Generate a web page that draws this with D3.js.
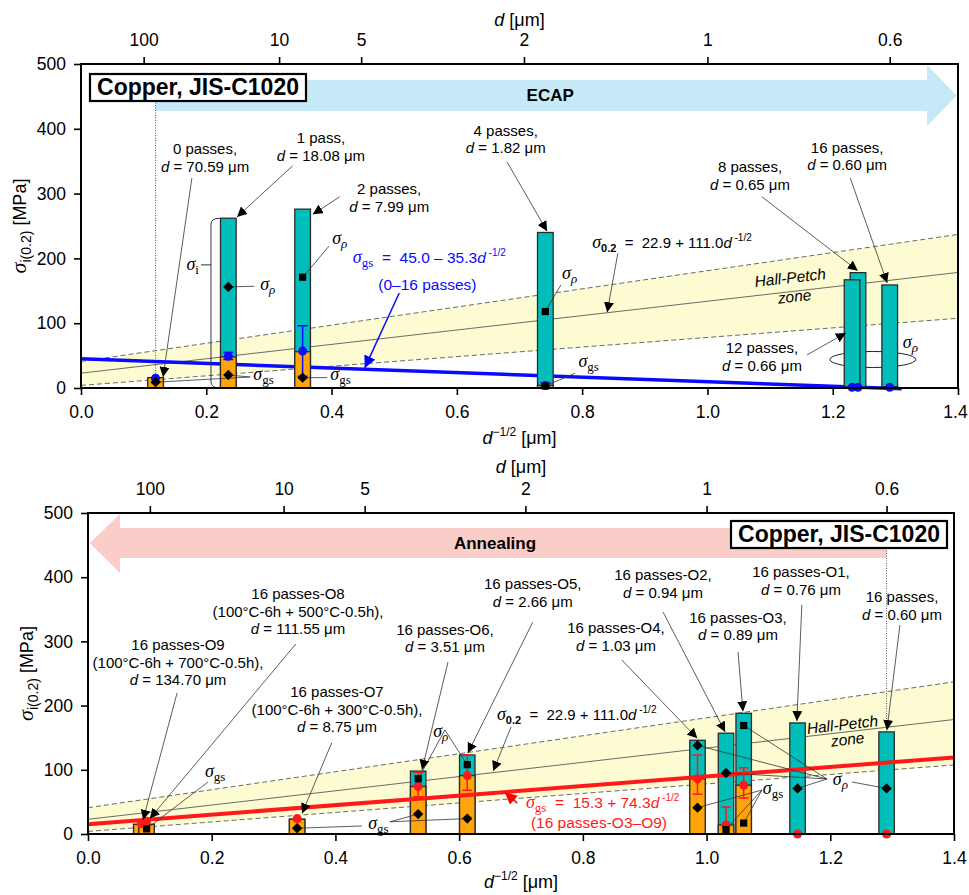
<!DOCTYPE html>
<html lang="en">
<head>
<meta charset="utf-8">
<title>copper JIS-C1020</title>
<script src="https://cdn.jsdelivr.net/npm/d3@7"></script>
<style>
body { margin: 0; background: #fff; }
svg text { font-family: "Liberation Sans", Arial, Helvetica, sans-serif; white-space: pre; }
</style>
</head>
<body>
<script>
// ---- data ----
var xTicks = [0, 0.2, 0.4, 0.6, 0.8, 1.0, 1.2, 1.4];
var yTicks = [0, 100, 200, 300, 400, 500];
var dTicks = [100, 10, 5, 2, 1, 0.6];

// straight lines: [intercept, slope] in MPa vs d^-1/2
var hpFit = [22.9, 111.0];
var hpUpper = [41, 140];
var hpLower = [4, 74];
var ecapFit = [45.0, -35.3];
var annealFit = [15.3, 74.3];

// ECAP series (top)
var ecapName  = ["0 passes", "1 pass", "2 passes", "4 passes", "8 passes", "12 passes", "16 passes"];
var ecapD     = [70.59, 18.08, 7.99, 1.82, 0.65, 0.66, 0.60];
var ecapTotal = [16, 262, 276, 240, 178, 167, 159];
var ecapGs    = [16, 48, 56, 4, 2, 2, 2];
var ecapGsPt  = [15, 49, 57, 4, 1, 1, 1];
var ecapErrLo = [null, 44, 18, 1, null, null, null];
var ecapErrHi = [null, 55, 96, 8, null, null, null];
var ecapRho   = [null, 156, 171, 118, null, null, null];
var ecapRhoShape = [null, "D", "S", "S", null, null, null];
var ecapGsMk  = [9, 20, 16, 3, null, null, null];
var ecapGsShape = ["D", "D", "D", "S", null, null, null];

// annealing series (bottom)
var annName  = ["16 passes-O9", "16 passes-O8", "16 passes-O7", "16 passes-O6", "16 passes-O5",
                "16 passes-O4", "16 passes-O2", "16 passes-O3", "16 passes-O1", "16 passes"];
var annHeat  = ["100°C-6h + 700°C-0.5h", "100°C-6h + 500°C-0.5h", "100°C-6h + 300°C-0.5h",
                null, null, null, null, null, null, null];
var annD     = [134.70, 111.55, 8.75, 3.51, 2.66, 1.03, 0.94, 0.89, 0.76, 0.60];
var annTotal = [15, 15, 23, 98, 123, 146, 157, 188, 173, 159];
var annGs    = [15, 15, 23, 74, 91, 86, 14, 76, 0, 0];
var annGsPt  = [16, 20, 24, 74, 91, 86, 14, 76, 0, 0];
var annErrLo = [null, null, null, 58, 68, 62, 0, 56, null, null];
var annErrHi = [null, null, null, 96, 123, 123, 42, 103, null, null];
var annRho   = [null, null, null, 86, 108, 138, 95, 169, 71, 71];
var annRhoShape = [null, null, null, "S", "S", "D", "D", "S", "D", "D"];
var annGsMk  = [null, 8, 9, 31, 24, 41, 7, 17, null, null];
var annGsShape = [null, "S", "D", "D", "D", "D", "S", "S", null, null];

// ---- styles ----
var SANS = "'Liberation Sans', Arial, Helvetica, sans-serif";
var SERIF = "'Liberation Serif', 'Times New Roman', serif";
var CYAN = "#00bfbb", ORANGE = "#ffa40a", EDGE = "#2b2b2b";
var barW = 0.025;

var svg = d3.select("body").append("svg")
    .attr("width", 969).attr("height", 895)
    .style("background", "#fff");

var defs = svg.append("defs");
function arrowMarker(id, color, size) {
    defs.append("marker").attr("id", id)
        .attr("viewBox", "0 0 10 10").attr("refX", 10).attr("refY", 5)
        .attr("markerWidth", size).attr("markerHeight", size)
        .attr("markerUnits", "userSpaceOnUse").attr("orient", "auto")
        .append("path").attr("d", "M0,0L10,5L0,10z").attr("fill", color);
}
arrowMarker("ah-k", "#000", 10);
arrowMarker("ah-b", "#0000ff", 12);
arrowMarker("ah-r", "#ff0000", 12);

function lin(c, v) { return c[0] + c[1] * v; }

function panel(box) {
    var p = { box: box, g: svg.append("g") };
    p.x = d3.scaleLinear().domain([0, 1.4]).range([box.left, box.right]);
    p.y = d3.scaleLinear().domain([0, 500]).range([box.bottom, box.top]);
    return p;
}

// text built from pieces; shift = px below baseline
function rich(g, x, y, parts, anchor, color) {
    var t = g.append("text").attr("x", x).attr("y", y)
        .attr("text-anchor", anchor || "start").attr("fill", color || "#000");
    var shift = 0;
    parts.forEach(function(pt) {
        var s = pt.shift || 0;
        t.append("tspan").attr("dy", s - shift)
            .attr("font-family", pt.serif ? SERIF : SANS)
            .attr("font-style", pt.it ? "italic" : "normal")
            .attr("font-weight", pt.bold ? "bold" : "normal")
            .attr("font-size", pt.size || 15)
            .text(pt.t);
        shift = s;
    });
    return t;
}

function sigma(p, xv, yv, sub, opt) {
    opt = opt || {};
    return rich(p.g, p.x(xv), p.y(yv), [
        { t: "σ", serif: true, it: true, size: 18 },
        { t: sub, serif: !opt.sans, it: !!opt.subIt, size: opt.sans ? 11 : 13, shift: 4, bold: !!opt.sans }
    ], opt.anchor, opt.color);
}

function seg(p, a, marker, color, width) {
    var l = p.g.append("line")
        .attr("x1", p.x(a[0])).attr("y1", p.y(a[1]))
        .attr("x2", p.x(a[2])).attr("y2", p.y(a[3]))
        .attr("stroke", color || "#333").attr("stroke-width", width || 0.8);
    if (marker) l.attr("marker-end", "url(#" + marker + ")");
    return l;
}

function hallPetch(p) {
    var xs = [0, 1.4];
    p.g.append("path").datum(xs)
        .attr("d", d3.area().x(function(d) { return p.x(d); })
            .y0(function(d) { return p.y(lin(hpLower, d)); })
            .y1(function(d) { return p.y(lin(hpUpper, d)); }))
        .attr("fill", "#fdfbd1");
    [hpUpper, hpLower, hpFit].forEach(function(c, k) {
        p.g.append("path").datum(xs)
            .attr("d", d3.line().x(function(d) { return p.x(d); }).y(function(d) { return p.y(lin(c, d)); }))
            .attr("fill", "none").attr("stroke", "#6a6a6a").attr("stroke-width", 1)
            .attr("stroke-dasharray", k < 2 ? "5,3" : null);
    });
}

function fitLine(p, c, x0, x1, color, w) {
    p.g.append("path").datum([x0, x1])
        .attr("d", d3.line().x(function(d) { return p.x(d); }).y(function(d) { return p.y(lin(c, d)); }))
        .attr("fill", "none").attr("stroke", color).attr("stroke-width", w);
}

function bars(p, rows) {
    var bw = p.x(barW) - p.x(0);
    var g = p.g.selectAll(null).data(rows).join("g");
    g.append("rect")
        .attr("x", function(r) { return p.x(r.x) - bw / 2; })
        .attr("y", function(r) { return p.y(r.total); })
        .attr("width", bw)
        .attr("height", function(r) { return p.y(0) - p.y(r.total); })
        .attr("fill", CYAN).attr("stroke", EDGE).attr("stroke-width", 1.3);
    g.filter(function(r) { return r.gs > 0; }).append("rect")
        .attr("x", function(r) { return p.x(r.x) - bw / 2; })
        .attr("y", function(r) { return p.y(r.gs); })
        .attr("width", bw)
        .attr("height", function(r) { return p.y(0) - p.y(r.gs); })
        .attr("fill", ORANGE).attr("stroke", EDGE).attr("stroke-width", 1.3);
}

function gsPoints(p, rows, color) {
    rows.forEach(function(r) {
        var cx = p.x(r.x);
        if (r.lo != null) {
            p.g.append("line").attr("x1", cx).attr("x2", cx)
                .attr("y1", p.y(r.lo)).attr("y2", p.y(r.hi))
                .attr("stroke", color).attr("stroke-width", 1.5);
            [r.lo, r.hi].forEach(function(v) {
                p.g.append("line").attr("x1", cx - 5).attr("x2", cx + 5)
                    .attr("y1", p.y(v)).attr("y2", p.y(v))
                    .attr("stroke", color).attr("stroke-width", 1.5);
            });
        }
        p.g.append("circle").attr("cx", cx).attr("cy", p.y(r.pt)).attr("r", 4.5).attr("fill", color);
    });
}

function marks(p, rows) {
    rows.forEach(function(r) {
        [[r.rho, r.rhoShape], [r.gsMk, r.gsShape]].forEach(function(m) {
            if (m[0] == null) return;
            var sym = d3.symbol().type(d3.symbolSquare).size(m[1] === "D" ? 54 : 52);
            p.g.append("path").attr("d", sym())
                .attr("transform", "translate(" + p.x(r.x) + "," + p.y(m[0]) + ")" + (m[1] === "D" ? " rotate(45)" : ""))
                .attr("fill", "#000");
        });
    });
}

function notes(p, rows, layout) {
    layout.forEach(function(n, i) {
        var r = rows[i];
        var lines = r.heat ? [r.name, "(" + r.heat + "),"] : [r.name + ","];
        var t = p.g.append("text").attr("text-anchor", "middle").attr("font-size", 15)
            .attr("y", p.y(n.ty));
        lines.forEach(function(s, k) {
            t.append("tspan").attr("x", p.x(n.tx)).attr("dy", k ? 17.5 : 0).text(s);
        });
        t.append("tspan").attr("x", p.x(n.tx)).attr("dy", 17.5).attr("font-style", "italic").text("d");
        t.append("tspan").text(" = " + r.d.toFixed(2) + " μm");
        seg(p, n.a, "ah-k", "#333", 0.8);
    });
}

function axes(p, xlabelY, toplabelY) {
    var b = p.box;
    var gx = p.g.append("g").attr("transform", "translate(0," + b.bottom + ")")
        .call(d3.axisBottom(p.x).tickValues(xTicks).tickSize(7).tickPadding(11).tickFormat(d3.format(".1f")));
    var gt = p.g.append("g").attr("transform", "translate(0," + b.top + ")")
        .call(d3.axisTop(p.x).tickValues(dTicks.map(function(d) { return 1 / Math.sqrt(d); }))
            .tickSize(7).tickPadding(11).tickFormat(function(v, i) { return dTicks[i]; }));
    var gy = p.g.append("g").attr("transform", "translate(" + b.left + ",0)")
        .call(d3.axisLeft(p.y).tickValues(yTicks).tickSize(7).tickPadding(8));
    [gx, gt, gy].forEach(function(g) {
        g.attr("font-size", 17.5).attr("font-family", SANS);
        g.select(".domain").remove();
        g.selectAll(".tick line").attr("stroke-width", 1.6);
    });
    // keep the last bottom label inside the page
    gx.selectAll(".tick text").filter(function(v) { return v === 1.4; })
        .attr("x", Math.min(0, 955 - b.right));
    p.g.append("rect").attr("x", b.left).attr("y", b.top)
        .attr("width", b.right - b.left).attr("height", b.bottom - b.top)
        .attr("fill", "none").attr("stroke", "#000").attr("stroke-width", 2);

    var cx = (b.left + b.right) / 2;
    rich(p.g, cx, xlabelY, [
        { t: "d", it: true, size: 18 },
        { t: "−1/2", size: 12, shift: -8 },
        { t: " [μm]", size: 18 }
    ], "middle");
    rich(p.g, cx, toplabelY, [
        { t: "d", it: true, size: 18 },
        { t: " [μm]", size: 18 }
    ], "middle");
    rich(p.g, 0, 0, [
        { t: "σ", serif: true, it: true, size: 22 },
        { t: "i(0.2)", size: 14, shift: 5 },
        { t: " [MPa]", size: 18 }
    ], "middle").attr("transform", "translate(" + (b.left - 55) + "," + ((b.top + b.bottom) / 2) + ") rotate(-90)");
}

function labelBox(p, x, y) {
    var w = 216, h = 27;
    p.g.append("rect").attr("x", x).attr("y", y).attr("width", w).attr("height", h)
        .attr("fill", "#fff").attr("stroke", "#000").attr("stroke-width", 2.2);
    p.g.append("text").attr("x", x + w / 2).attr("y", y + 21).attr("text-anchor", "middle")
        .attr("font-size", 23).attr("font-weight", "bold").text("Copper, JIS-C1020");
}

function hpText(p, a, b) {
    var ang = Math.atan2(p.y(hpFit[1]) - p.y(0), p.x(1) - p.x(0)) * 180 / Math.PI;
    [["Hall-Petch", a], ["zone", b]].forEach(function(s) {
        var px = p.x(s[1][0]), py = p.y(s[1][1]);
        p.g.append("text").attr("x", px).attr("y", py).attr("text-anchor", "middle")
            .attr("font-size", 15.5).attr("font-style", "italic")
            .attr("transform", "rotate(" + ang + "," + px + "," + py + ")").text(s[0]);
    });
}

function rowsOf(dArr, total, gs, pt, lo, hi, rho, rhoShape, gsMk, gsShape, names, heat) {
    return dArr.map(function(d, i) {
        return { d: d, x: 1 / Math.sqrt(d), total: total[i], gs: gs[i], pt: pt[i], lo: lo[i], hi: hi[i],
                 rho: rho[i], rhoShape: rhoShape[i], gsMk: gsMk[i], gsShape: gsShape[i],
                 name: names[i], heat: heat ? heat[i] : null };
    });
}

// ================= top panel: ECAP =================
var P1 = panel({ left: 81, right: 958, top: 64, bottom: 388 });
var ecapRows = rowsOf(ecapD, ecapTotal, ecapGs, ecapGsPt, ecapErrLo, ecapErrHi, ecapRho, ecapRhoShape, ecapGsMk, ecapGsShape, ecapName);
var x0p = ecapRows[0].x;

hallPetch(P1);
P1.g.append("polygon").attr("fill", "#c5e9f6").attr("points", [
    [x0p, 427.5], [1.3506, 427.5], [1.3506, 404.3], [1.398, 451.4], [1.3506, 498.5], [1.3506, 475.3], [x0p, 475.3]
].map(function(q) { return P1.x(q[0]) + "," + P1.y(q[1]); }).join(" "));
P1.g.append("text").attr("x", P1.x(0.749)).attr("y", P1.y(451.4) + 6).attr("text-anchor", "middle")
    .attr("font-size", 17).attr("font-weight", "bold").text("ECAP");
P1.g.append("line").attr("x1", P1.x(x0p)).attr("x2", P1.x(x0p))
    .attr("y1", 100).attr("y2", P1.y(ecapTotal[0]))
    .attr("stroke", "#555").attr("stroke-width", 1).attr("stroke-dasharray", "1,1.5");
labelBox(P1, 90, 74);

// σρ loop round the last bars (behind them)
P1.g.append("ellipse").attr("cx", P1.x(1.264)).attr("cy", P1.y(44))
    .attr("rx", P1.x(1.264 + 0.0686) - P1.x(1.264)).attr("ry", 8)
    .attr("fill", "none").attr("stroke", "#222").attr("stroke-width", 1);

fitLine(P1, ecapFit, 0, 1.31, "#0a0aff", 3.5);
bars(P1, ecapRows);

// σi bracket on the 1-pass bar
(function() {
    var xb = P1.x(0.2075), yt = P1.y(262), yb = P1.y(0), ym = P1.y(190);
    P1.g.append("path").attr("d",
        "M" + (xb + 9) + "," + yt + "Q" + xb + "," + yt + " " + xb + "," + (yt + 6) +
        "L" + xb + "," + (yb - 6) + "Q" + xb + "," + yb + " " + (xb + 9) + "," + yb +
        "M" + (xb - 10) + "," + ym + "L" + xb + "," + ym)
        .attr("fill", "none").attr("stroke", "#333").attr("stroke-width", 1);
    rich(P1.g, xb - 12, ym + 5, [
        { t: "σ", serif: true, it: true, size: 18 },
        { t: "i", serif: true, size: 13, shift: 4 }
    ], "end");
})();

// σ label leader lines
[[0.277, 157, 0.235, 156], [0.396, 219, 0.354, 171], [0.270, 17, 0.235, 20], [0.270, 17, 0.119, 9],
 [0.393, 16, 0.354, 16], [0.766, 159, 0.741, 118], [0.789, 23, 0.741, 3]].forEach(function(a) { seg(P1, a); });

gsPoints(P1, ecapRows, "#0a0aff");
marks(P1, ecapRows);

sigma(P1, 0.286, 151, "ρ", { subIt: true });
sigma(P1, 0.401, 222, "ρ", { subIt: true });
sigma(P1, 0.275, 12, "gs");
sigma(P1, 0.398, 12, "gs");
sigma(P1, 0.768, 168, "ρ", { subIt: true });
sigma(P1, 0.794, 32, "gs");
sigma(P1, 1.312, 62, "ρ", { subIt: true });

notes(P1, ecapRows, [
    { tx: 0.198, ty: 361, a: [0.177, 324, 0.131, 17] },
    { tx: 0.383, ty: 378, a: [0.338, 343, 0.249, 264] },
    { tx: 0.492, ty: 299, a: [0.413, 295, 0.37, 268] },
    { tx: 0.678, ty: 389, a: [0.680, 349, 0.744, 242] },
    { tx: 1.068, ty: 333, a: [1.087, 295, 1.240, 181] },
    { tx: 1.087, ty: 54, a: [1.159, 51, 1.221, 85] },
    { tx: 1.223, ty: 363, a: [1.228, 324, 1.287, 162] }
]);

// Hall-Petch equation
rich(P1.g, P1.x(0.816), P1.y(216), [
    { t: "σ", serif: true, it: true, size: 18 },
    { t: "0.2", size: 11, shift: 4, bold: true },
    { t: "  =  22.9 + 111.0", size: 15 },
    { t: "d", it: true, size: 15 },
    { t: " -1/2", size: 10, shift: -7 }
]);
seg(P1, [0.857, 208, 0.840, 117], "ah-k");

// blue fit equation
rich(P1.g, P1.x(0.434), P1.y(193), [
    { t: "σ", serif: true, it: true, size: 18 },
    { t: "gs", serif: true, size: 13, shift: 4 },
    { t: "  =  45.0 – 35.3", size: 15.5 },
    { t: "d", it: true, size: 15.5 },
    { t: " -1/2", size: 10, shift: -7 }
], "start", "#0a0aff");
P1.g.append("text").attr("x", P1.x(0.553)).attr("y", P1.y(151)).attr("text-anchor", "middle")
    .attr("font-size", 15.5).attr("fill", "#0a0aff").text("(0–16 passes)");
seg(P1, [0.508, 146.6, 0.453, 31], "ah-b", "#0a0aff", 1.5);

hpText(P1, [1.133, 162], [1.140, 133]);
axes(P1, 444, 26);

// ================= bottom panel: annealing =================
var P2 = panel({ left: 88, right: 954, top: 513, bottom: 834 });
var annRows = rowsOf(annD, annTotal, annGs, annGsPt, annErrLo, annErrHi, annRho, annRhoShape, annGsMk, annGsShape, annName, annHeat);
var x16 = annRows[annRows.length - 1].x;

hallPetch(P2);
P2.g.append("polygon").attr("fill", "#facdc8").attr("points", [
    [x16, 430], [0.0517, 430], [0.0517, 406.5], [0.003, 453.3], [0.0517, 498.4], [0.0517, 476.6], [x16, 476.6]
].map(function(q) { return P2.x(q[0]) + "," + P2.y(q[1]); }).join(" "));
P2.g.append("text").attr("x", P2.x(0.658)).attr("y", P2.y(453.3) + 6).attr("text-anchor", "middle")
    .attr("font-size", 17).attr("font-weight", "bold").text("Annealing");
P2.g.append("line").attr("x1", P2.x(x16)).attr("x2", P2.x(x16))
    .attr("y1", 548).attr("y2", P2.y(annTotal[annTotal.length - 1]))
    .attr("stroke", "#555").attr("stroke-width", 1).attr("stroke-dasharray", "1,1.5");
labelBox(P2, 731, 521);

bars(P2, annRows);
fitLine(P2, annealFit, 0, 1.4, "#ff1a1a", 4);

[[0.194, 81, 0.0947, 8], [0.443, 12.5, 0.338, 9], [0.488, 19, 0.534, 31], [0.488, 19, 0.613, 24],
 [0.577, 162, 0.534, 86], [0.577, 162, 0.613, 108],
 [1.1946, 85.7, 0.985, 138], [1.1946, 85.7, 1.031, 95], [1.1946, 85.7, 1.060, 169], [1.1946, 85.7, 1.147, 71],
 [1.235, 81, 1.291, 71],
 [1.0896, 68.5, 0.985, 41], [1.0896, 68.5, 1.031, 7], [1.0896, 68.5, 1.060, 17]
].forEach(function(a) { seg(P2, a); });

gsPoints(P2, annRows, "#ff1a1a");
marks(P2, annRows);

sigma(P2, 0.189, 89, "gs");
sigma(P2, 0.453, 7.8, "gs");
sigma(P2, 0.558, 151, "ρ", { subIt: true });
sigma(P2, 1.204, 76, "ρ", { subIt: true });
sigma(P2, 1.091, 62, "gs");

notes(P2, annRows, [
    { tx: 0.1455, ty: 286.6, a: [0.144, 219.6, 0.089, 22] },
    { tx: 0.3395, ty: 366, a: [0.336, 296, 0.100, 24] },
    { tx: 0.4025, ty: 213, a: [0.394, 142, 0.346, 32] },
    { tx: 0.577, ty: 310, a: [0.582, 268, 0.540, 100] },
    { tx: 0.719, ty: 381.6, a: [0.719, 330, 0.614, 126] },
    { tx: 0.8535, ty: 313, a: [0.863, 271, 0.985, 149] },
    { tx: 0.9295, ty: 395.6, a: [0.9295, 346, 1.030, 159] },
    { tx: 1.0508, ty: 328.7, a: [1.0508, 283.5, 1.0588, 191] },
    { tx: 1.1526, ty: 400, a: [1.154, 357, 1.146, 176] },
    { tx: 1.316, ty: 361, a: [1.3126, 325.5, 1.2916, 162] }
]);

rich(P2.g, P2.x(0.661), P2.y(178), [
    { t: "σ", serif: true, it: true, size: 18 },
    { t: "0.2", size: 11, shift: 4, bold: true },
    { t: "  =  22.9 + 111.0", size: 15 },
    { t: "d", it: true, size: 15 },
    { t: " -1/2", size: 10, shift: -7 }
]);
seg(P2, [0.684, 167, 0.655, 98], "ah-k");

rich(P2.g, P2.x(0.708), P2.y(40.5), [
    { t: "σ", serif: true, it: true, size: 18 },
    { t: "gs", serif: true, size: 13, shift: 4 },
    { t: "  =  15.3 + 74.3", size: 15.5 },
    { t: "d", it: true, size: 15.5 },
    { t: " -1/2", size: 10, shift: -7 }
], "start", "#ff1a1a");
P2.g.append("text").attr("x", P2.x(0.826)).attr("y", P2.y(9.3)).attr("text-anchor", "middle")
    .attr("font-size", 15.5).attr("fill", "#ff1a1a").text("(16 passes-O3–O9)");
seg(P2, [0.694, 48, 0.674, 65], "ah-r", "#ff1a1a", 1.8);

hpText(P2, [1.2205, 162], [1.229, 139]);
axes(P2, 888, 473);
</script>
</body>
</html>
